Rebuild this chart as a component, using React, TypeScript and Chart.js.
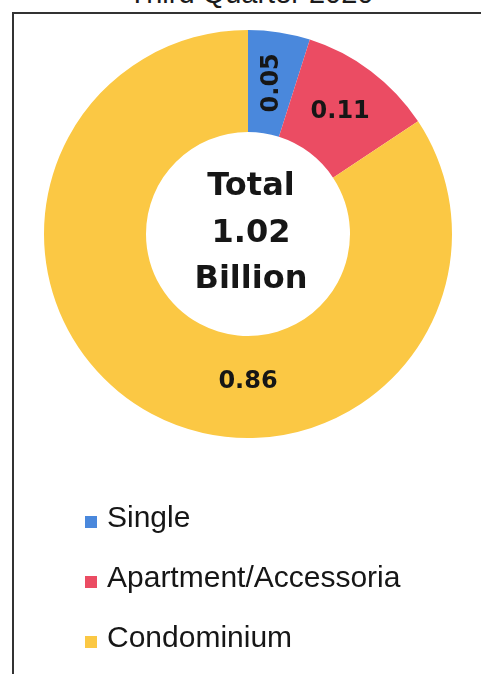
import React, { useEffect, useRef } from "react";
import { Chart, registerables } from "chart.js";

Chart.register(...registerables);

const titleText = "Third Quarter 2020";
const categories = ["Single", "Apartment/Accessoria", "Condominium"];
const values = [0.05, 0.11, 0.86];
const colors = ["#4a88dc", "#eb4c63", "#fbc844"];
const centerWords = ["Total", "Billion"];

export default function App() {
  const ref = useRef<HTMLCanvasElement | null>(null);

  useEffect(() => {
    if (!ref.current) return;
    const total = values.reduce((a, b) => a + b, 0);

    const labelPlugin = {
      id: "sliceLabels",
      afterDatasetsDraw(chart: any) {
        const ctx = chart.ctx as CanvasRenderingContext2D;
        const meta = chart.getDatasetMeta(0);
        ctx.save();
        ctx.fillStyle = "#161616";
        ctx.font = "bold 24px 'DejaVu Sans'";
        ctx.textAlign = "center";
        ctx.textBaseline = "middle";
        meta.data.forEach((arc: any, i: number) => {
          const p = arc.getProps(["x", "y", "startAngle", "endAngle", "innerRadius", "outerRadius"], true);
          const span = p.endAngle - p.startAngle;
          let mid = (p.startAngle + p.endAngle) / 2;
          let r = (p.innerRadius + p.outerRadius) / 2;
          if (span > Math.PI) {
            mid = Math.PI / 2;
            r = r * 0.965;
          }
          const px = p.x + Math.cos(mid) * r;
          const py = p.y + Math.sin(mid) * r;
          ctx.save();
          ctx.translate(px, py);
          if (span < 0.4) ctx.rotate(-Math.PI / 2);
          ctx.fillText(values[i].toFixed(2), 0, 0);
          ctx.restore();
        });
        // center text
        const a0 = meta.data[0].getProps(["x", "y"], true);
        ctx.textBaseline = "alphabetic";
        ctx.font = "bold 32px 'DejaVu Sans'";
        ctx.fillStyle = "#161616";
        ctx.fillText(centerWords[0], a0.x + 3, a0.y - 39);
        ctx.fillText(total.toFixed(2), a0.x + 3, a0.y + 8);
        ctx.fillText(centerWords[1], a0.x + 3, a0.y + 54);
        ctx.restore();
      },
    };

    const chart = new Chart(ref.current, {
      type: "doughnut",
      data: {
        labels: categories,
        datasets: [
          {
            data: values,
            backgroundColor: colors,
            borderWidth: 0,
          },
        ],
      },
      options: {
        animation: false,
        responsive: false,
        cutout: "50%",
        layout: { padding: { left: 44, right: 29, top: 30, bottom: 236 } },
        plugins: {
          legend: { display: false },
          tooltip: { enabled: false },
          title: { display: false },
        },
      },
      plugins: [labelPlugin],
    });
    return () => chart.destroy();
  }, []);

  const rowTops = [503, 563, 623];

  return (
    <div
      style={{
        position: "fixed",
        left: 0,
        top: 0,
        width: 481,
        height: 674,
        overflow: "hidden",
        background: "#ffffff",
        fontFamily: "'Liberation Sans', Arial, sans-serif",
      }}
    >
      <div
        style={{
          position: "absolute",
          left: 0,
          width: 502,
          top: -21,
          textAlign: "center",
          fontSize: 29,
          lineHeight: "29px",
          color: "#1b1b1b",
          whiteSpace: "nowrap",
        }}
      >
        {titleText}
      </div>
      <div
        style={{
          position: "absolute",
          left: 12,
          top: 12,
          width: 520,
          height: 720,
          borderLeft: "2px solid #333",
          borderTop: "2px solid #333",
        }}
      />
      <canvas
        ref={ref}
        width={481}
        height={674}
        style={{ position: "absolute", left: 0, top: 0 }}
      />
      {categories.map((c, i) => (
        <div
          key={c}
          style={{
            position: "absolute",
            left: 85,
            top: rowTops[i],
            height: 30,
            whiteSpace: "nowrap",
          }}
        >
          <span
            style={{
              position: "absolute",
              left: 0,
              top: 13,
              width: 12,
              height: 12,
              background: colors[i],
            }}
          />
          <span
            style={{
              position: "absolute",
              left: 22,
              top: -1,
              fontSize: 30,
              lineHeight: "30px",
              color: "#161616",
            }}
          >
            {c}
          </span>
        </div>
      ))}
    </div>
  );
}
